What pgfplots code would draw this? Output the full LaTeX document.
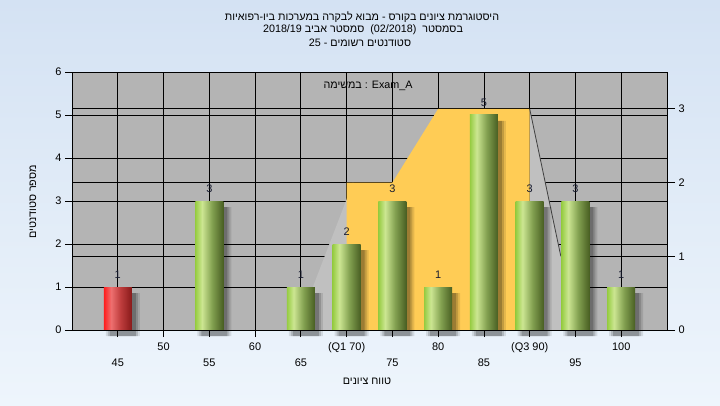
\documentclass[border=0pt]{standalone}
\usepackage{fontspec}
\setmainfont{Liberation Sans}
\newfontfamily\heb[Script=Hebrew]{Liberation Sans}
\usepackage{pgfplots}
\pgfplotsset{compat=1.18}
\TeXXeTstate=1
\definecolor{bgtop}{RGB}{212,226,243}
\definecolor{bgbot}{RGB}{238,245,252}
\definecolor{plotgray}{RGB}{180,180,180}
\definecolor{lgray}{RGB}{192,192,192}
\definecolor{orangeA}{RGB}{255,204,85}
\definecolor{gA}{RGB}{150,204,66}
\definecolor{gB}{RGB}{204,230,146}
\definecolor{gM}{RGB}{130,160,80}
\definecolor{gC}{RGB}{72,94,34}
\definecolor{rA}{RGB}{255,28,28}
\definecolor{rB}{RGB}{238,112,112}
\definecolor{rM}{RGB}{190,60,60}
\definecolor{rC}{RGB}{136,26,26}
\definecolor{lbl}{RGB}{24,28,48}
\pgfdeclarehorizontalshading{greenbar}{100bp}{color(0bp)=(gA); color(25bp)=(gA); color(37bp)=(gB); color(55bp)=(gM); color(75bp)=(gC); color(100bp)=(gC)}
\pgfdeclarehorizontalshading{redbar}{100bp}{color(0bp)=(rA); color(25bp)=(rA); color(38bp)=(rB); color(55bp)=(rM); color(75bp)=(rC); color(100bp)=(rC)}
\begin{document}
\begin{tikzpicture}[x=1bp,y=1bp]
\shade[top color=bgtop, bottom color=bgbot] (0,0) rectangle (720,405);
\pgfplotsset{geom/.style={at={(72bp,75bp)}, anchor=south west, scale only axis, width=595bp, height=258bp, xmin=40, xmax=105},
  /pgf/number format/assume math mode=true,
  tick label style={font=\fontsize{11}{13}\selectfont, text=black},
  gbar/.style={ybar, bar width=28bp, bar shift=0pt, draw=none, shade, shading=greenbar, nodes near coords}}
% axis 1: background, grid, left ticks
\begin{axis}[geom, ymin=0, ymax=6,
  axis background/.style={fill=plotgray},
  axis line style={black, line width=0.8bp},
  xtick={45,50,...,100},
  xticklabels={45,{},55,{},65,{},75,{},85,{},95,{}},
  xticklabel style={yshift=-18bp},
  ytick={0,1,2,3,4,5,6},
  xtick pos=bottom, ytick pos=left,
  tick align=outside, major tick length=7bp,
  tick style={black, line width=0.8bp},
  xmajorgrids, ymajorgrids,
  grid style={black, line width=0.8bp}]
\end{axis}
% axis 2: right scale, areas
\begin{axis}[geom, ymin=0, ymax=3.5,
  axis x line=none, axis y line*=right,
  axis line style={black, line width=0.8bp},
  ytick={0,1,2,3}, yticklabel pos=right,
  tick align=outside, major tick length=8bp,
  tick style={black, line width=0.8bp},
  ymajorgrids, grid style={black, line width=0.8bp}]
\addplot[fill=lgray, draw=none] coordinates {(64.5,0) (70.7,2) (70.7,0)};
\addplot[fill=lgray, draw=none] coordinates {(90,0) (90,3) (93.4,1) (93.4,0)};
\addplot[fill=orangeA, draw=none] coordinates {(70,0) (70,2) (75,2) (80,3) (90,3) (90,0)};
\addplot[draw=black!75, line width=0.8bp] coordinates {(90,3) (93.4,1)};
\end{axis}
% axis 3: bars
\begin{axis}[geom, ymin=0, ymax=6, clip=false, axis on top,
  axis x line*=bottom, axis y line=none,
  axis line style={black, line width=0.8bp},
  xtick={50,60,70,80,90,100},
  xticklabels={50,60,(Q1 70),80,(Q3 90),100},
  xticklabel style={yshift=-9bp},
  major tick length=0pt,
  every node near coord/.append style={font=\fontsize{11}{13}\selectfont, text=lbl, anchor=south, yshift=5bp}]
\addplot[ybar, bar width=34bp, bar shift=0pt, draw=none, fill=black, fill opacity=0.10, xshift=5bp, yshift=-6bp] coordinates {(45,1) (55,3) (65,1) (70,2) (75,3) (80,1) (85,5) (90,3) (95,3) (100,1)};
\addplot[ybar, bar width=30bp, bar shift=0pt, draw=none, fill=black, fill opacity=0.15, xshift=5bp, yshift=-6bp] coordinates {(45,1) (55,3) (65,1) (70,2) (75,3) (80,1) (85,5) (90,3) (95,3) (100,1)};
\addplot[ybar, bar width=26bp, bar shift=0pt, draw=none, fill=black, fill opacity=0.20, xshift=5bp, yshift=-6bp] coordinates {(45,1) (55,3) (65,1) (70,2) (75,3) (80,1) (85,5) (90,3) (95,3) (100,1)};
\addplot[ybar, bar width=28bp, bar shift=0pt, draw=none, shade, shading=redbar, nodes near coords] coordinates {(45,1)};
\addplot[gbar] coordinates {(55,3)};
\addplot[gbar] coordinates {(65,1)};
\addplot[gbar] coordinates {(70,2)};
\addplot[gbar] coordinates {(75,3)};
\addplot[gbar] coordinates {(80,1)};
\addplot[gbar] coordinates {(85,5)};
\addplot[gbar] coordinates {(90,3)};
\addplot[gbar] coordinates {(95,3)};
\addplot[gbar] coordinates {(100,1)};
\end{axis}
\node[font=\fontsize{10.8}{12}\selectfont] at (362,388) {\heb\beginR היסטוגרמת ציונים בקורס - מבוא לבקרה במערכות ביו-רפואיות\endR};
\node[font=\fontsize{10.8}{12}\selectfont] at (363,375) {\heb\beginR בסמסטר \ \beginL{\normalfont (02/2018)}\endL{} \ סמסטר אביב \beginL{\normalfont 2018/19}\endL\endR};
\node[font=\fontsize{10.8}{12}\selectfont] at (360,362) {\heb\beginR סטודנטים רשומים - \beginL{\normalfont 25}\endL\endR};
\node[font=\fontsize{10.8}{12}\selectfont] at (368,319) {{\heb במשימה} : Exam\_A};
\node[font=\fontsize{10.8}{12}\selectfont, rotate=90] at (33,203) {\heb\beginR מספר סטודנטים\endR};
\node[font=\fontsize{10.8}{12}\selectfont] at (367,24) {\heb\beginR טווח ציונים\endR};
\pgfresetboundingbox
\useasboundingbox (0,0) rectangle (720,405);
\end{tikzpicture}
\end{document}
